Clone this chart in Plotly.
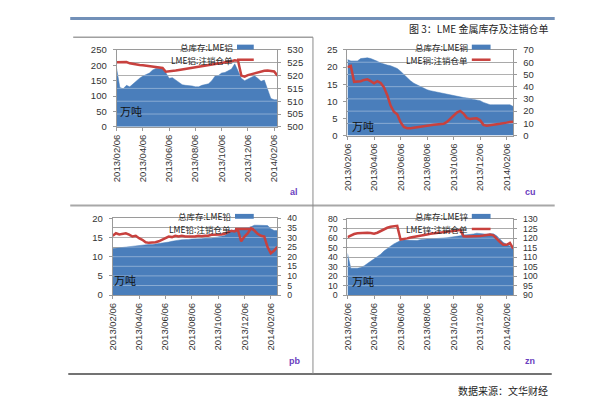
import plotly.graph_objects as go

# ---------------- data ----------------
dates = ["2013/02/06", "2013/04/06", "2013/06/06", "2013/08/06",
         "2013/10/06", "2013/12/06", "2014/02/06"]

al_stock = [190, 128, 124, 135, 130, 140, 148, 158, 165, 170, 175, 185, 190, 190, 188, 176,
            158, 160, 152, 142, 137, 135, 135, 133, 130, 130, 135, 137, 140, 150, 165, 167,
            175, 177, 182, 188, 205, 180, 158, 150, 155, 160, 166, 158, 148, 152, 120, 92, 88, 88]
al_cancel = [525.2, 525.3, 525.4, 525.3, 524.8, 524.5, 524.3, 524.1, 524.0, 523.8,
             523.7, 523.5, 523.4, 523.2, 523.0, 521.5, 521.6, 521.8, 522.0, 522.2,
             522.4, 522.6, 522.8, 523.0, 523.2, 523.4, 523.6, 523.8, 524.0, 524.2,
             524.4, 524.6, 524.8, 525.0, 525.3, 525.6, 526.0, 525.8, 520.0, 519.6,
             520.2, 520.6, 521.0, 521.3, 521.6, 521.9, 522.0, 521.8, 521.6, 520.0]

cu_stock = [22.2, 21.8, 21.8, 21.8, 22.5, 22.7, 22.7, 22.5, 22.2, 21.7,
            21.2, 20.8, 20.6, 20.4, 20.1, 19.6, 18.8, 17.8, 16.9, 16.0,
            15.3, 14.8, 14.3, 13.9, 13.4, 13.1, 12.9, 12.7, 12.4, 12.1,
            11.9, 11.7, 11.5, 11.4, 11.2, 11.1, 11.0, 10.8, 10.6, 10.5,
            10.2, 9.7, 9.3, 9.0, 9.0, 9.0, 9.0, 9.1, 9.2, 9.0, 8.5]
cu_cancel = [56, 57, 44, 44.3, 44.5, 45.5, 46, 44.5, 42.8, 44.5,
             43, 39.5, 33, 24.5, 19.5, 17.5, 11, 7, 6.1, 6.1,
             6.3, 7, 7.3, 7.7, 7.8, 8.5, 8.8, 9.2, 9.3, 9.6,
             11.2, 13.8, 16.5, 18.8, 20.2, 18, 14.5, 13.5, 13.9, 14.1,
             12.5, 8.8, 8.0, 8.6, 9.2, 9.3, 9.6, 10.4, 10.6, 11.2, 11.4]

pb_stock = [12.1, 12.2, 12.3, 12.5, 12.6, 12.65, 12.7, 12.8, 12.9, 13.1,
            13.2, 13.2, 13.2, 13.3, 13.4, 13.5, 13.6, 13.8, 14.0, 14.2,
            14.3, 14.4, 14.4, 14.5, 14.6, 14.6, 14.6, 14.7, 14.8, 14.8,
            14.8, 15.0, 15.1, 15.3, 15.5, 16.1, 16.6, 17.0, 17.4, 17.4,
            17.4, 17.5, 17.8, 18.2, 18.2, 18.2, 18.2, 18.1, 17.3, 16.8, 16.8]
pb_cancel = [30.9, 32.2, 31.6, 31.9, 32.2, 31.5, 30.5, 30.9, 29.6, 28.8,
             27.5, 27.2, 27.2, 27.5, 28.0, 28.9, 29.7, 30.5, 30.2, 30.9,
             30.5, 30.9, 30.5, 30.5, 30.5, 30.5, 30.9, 30.6, 30.9, 30.9,
             31.4, 31.4, 31.4, 31.6, 31.9, 32.6, 33.5, 33.1, 33.9, 28.0,
             30.5, 32.2, 34.8, 33.6, 31.9, 30.9, 30.5, 25.0, 21.8, 23.2, 25.2]

zn_stock = [44, 28.4, 28.4, 28.4, 29.2, 30.8, 33.3, 35.8, 38.2, 40.5,
            43, 46.5, 49.5, 51.5, 54, 56, 57.5, 58, 58, 58.2,
            58.2, 57.5, 58.5, 59.2, 59.2, 59.2, 59.3, 59.5, 60.2, 60.2,
            60.5, 61, 61.8, 62, 62.5, 63.5, 63.6, 63.8, 64.5, 65.3,
            64.8, 64, 64.2, 64.6, 64.6, 62.5, 59, 55.5, 53.5, 51.8, 50]
zn_cancel = [120.6, 121.6, 122.2, 122.6, 122.8, 123.0, 122.9, 122.7, 122.4, 122.9,
             123.8, 124.6, 125.5, 126.0, 126.3, 126.5, 119.3, 119.5, 119.9, 120.4,
             120.8, 121.2, 121.5, 121.8, 122.0, 122.3, 122.5, 122.6, 122.8, 123.0,
             123.3, 123.5, 123.8, 124.0, 124.4, 121.0, 120.9, 120.9, 120.9, 121.0,
             121.2, 121.4, 121.7, 121.9, 121.5, 119.5, 118.0, 116.5, 116.5, 117.5, 114.5]

metals = ["al", "cu", "pb", "zn"]
stock_names = ["总库存:LME铝", "总库存:LME铜", "总库存:LME铅", "总库存:LME锌"]
cancel_names = ["LME铝:注销仓单", "LME铜:注销仓单", "LME铅:注销仓单", "LME锌:注销仓单"]
left_ranges = [(0, 250, 50), (0, 25, 5), (0, 20, 5), (0, 80, 10)]
right_ranges = [(500, 530, 5), (0, 70, 10), (0, 40, 5), (90, 130, 5)]
unit = "万吨"
title = "图 3：LME 金属库存及注销仓单"
source = "数据来源：文华财经"

# ---------------- styling / layout ----------------
W, H = 600, 403
BLUE = "#4A7EBB"
RED = "#C8413E"
AX = "#9A9A9A"
GRID = "#8C8C8C"
NUM_FONT = "Liberation Sans, Arial, sans-serif"
CJK_FONT = "Noto Sans CJK SC, sans-serif"

def px(x):
    return x / W

def py(y):
    return 1 - y / H

# plot boxes (left, right, top, bottom) in pixels
boxes = [(104, 267, 37, 116), (338, 506, 37, 125), (100, 267, 210, 289), (338, 506, 211, 289)]
legend_pos = [(226, 243, 34, 47), (464, 483, 34, 47), (224, 243, 208, 221), (464, 483, 208, 221)]
unit_pos = [(119, 100), (354, 115), (113, 273), (354, 275)]
tag_pos = [(284, 183), (523, 183), (284, 357), (523, 357)]
ytick_sizes = [(9.5, 9.5), (9.5, 9.5), (9.5, 8.8), (8.8, 8.8)]

series = [(al_stock, al_cancel), (cu_stock, cu_cancel), (pb_stock, pb_cancel), (zn_stock, zn_cancel)]

fig = go.Figure()
layout = dict(width=W, height=H, autosize=False, margin=dict(l=0, r=0, t=0, b=0),
              paper_bgcolor="white", plot_bgcolor="white", showlegend=False)
shapes = []
annotations = []

for i in range(4):
    k = i + 1
    xa = "x" if k == 1 else f"x{k}"
    yl = "y" if k == 1 else f"y{k}"
    yr = f"y{k + 4}"
    stock, cancel = series[i]
    n = len(stock)
    xs = list(range(n))

    fig.add_trace(go.Scatter(x=xs, y=stock, xaxis=xa, yaxis=yl, mode="lines",
                             fill="tozeroy", fillcolor=BLUE,
                             line=dict(color=BLUE, width=0.5), hoverinfo="skip"))
    r0, r1, rdt = right_ranges[i]
    v = r0 + rdt
    while v < r1 - 1e-9:
        fig.add_trace(go.Scatter(x=[0, n - 1], y=[v, v], xaxis=xa, yaxis=yr, mode="lines",
                                 line=dict(color="rgba(255,255,255,0.35)", width=1),
                                 hoverinfo="skip"))
        v += rdt
    fig.add_trace(go.Scatter(x=xs, y=cancel, xaxis=xa, yaxis=yr, mode="lines",
                             line=dict(color=RED, width=2.5), hoverinfo="skip"))

    x0, x1, y0, y1 = boxes[i]
    l0, l1, ldt = left_ranges[i]
    ls, rs = ytick_sizes[i]
    tickidx = list(range(0, n, 8))[:len(dates)]
    suffix = "" if k == 1 else str(k)
    layout["xaxis" + suffix] = dict(
        domain=[px(x0), px(x1)], anchor=yl, range=[0, n - 1],
        tickmode="array", tickvals=tickidx, ticktext=dates, tickangle=-90,
        showgrid=False, zeroline=False, showline=True, mirror=True,
        linecolor=AX, linewidth=1, ticks="outside", ticklen=3, tickcolor=AX,
        tickfont=dict(family=NUM_FONT, size=9.5, color="#333"))
    layout["yaxis" + suffix] = dict(
        domain=[py(y1), py(y0)], anchor=xa, range=[l0, l1], tick0=l0, dtick=ldt,
        showgrid=False, zeroline=False, showline=True, linecolor=AX, linewidth=1,
        ticks="outside", ticklen=3, tickcolor=AX, ticklabelstandoff=4,
        tickfont=dict(family=NUM_FONT, size=ls, color="#333"))
    layout[f"yaxis{k + 4}"] = dict(
        overlaying=yl, side="right", anchor=xa, range=[r0, r1], tick0=r0, dtick=rdt,
        showgrid=True, gridcolor=GRID, gridwidth=1, zeroline=False,
        showline=True, linecolor=AX, linewidth=1,
        ticks="outside", ticklen=3, tickcolor=AX, ticklabelstandoff=4,
        tickfont=dict(family=NUM_FONT, size=rs, color="#333"))

    # mirrored-style legend: text, then symbol on the right
    sx0, sx1, ry1, ry2 = legend_pos[i]
    shapes.append(dict(type="rect", xref="paper", yref="paper",
                       x0=px(sx0), x1=px(sx1), y0=py(ry1 + 2.5), y1=py(ry1 - 2.5),
                       fillcolor=BLUE, line=dict(width=0)))
    shapes.append(dict(type="line", xref="paper", yref="paper",
                       x0=px(sx0), x1=px(sx1), y0=py(ry2), y1=py(ry2),
                       line=dict(color=RED, width=2.5)))
    annotations.append(dict(text=stock_names[i], xref="paper", yref="paper",
                            x=px(sx0 - 3), y=py(ry1), xanchor="right", yanchor="middle",
                            showarrow=False, borderpad=0,
                            font=dict(family=CJK_FONT, size=8.5, color="#222")))
    annotations.append(dict(text=cancel_names[i], xref="paper", yref="paper",
                            x=px(sx0 - 3), y=py(ry2), xanchor="right", yanchor="middle",
                            showarrow=False, borderpad=0,
                            font=dict(family=CJK_FONT, size=8.5, color="#222")))
    ux, uy = unit_pos[i]
    annotations.append(dict(text=unit, xref="paper", yref="paper", x=px(ux), y=py(uy),
                            xanchor="center", yanchor="middle", showarrow=False,
                            font=dict(family=CJK_FONT, size=11, color="#111")))
    tx, ty = tag_pos[i]
    annotations.append(dict(text="<b>" + metals[i] + "</b>", xref="paper", yref="paper",
                            x=px(tx), y=py(ty), xanchor="center", yanchor="middle",
                            showarrow=False, font=dict(family=NUM_FONT, size=9, color="#6A40C0")))

# frame lines
def hline(xa, xb, y, color, width):
    shapes.append(dict(type="line", xref="paper", yref="paper", x0=px(xa), x1=px(xb),
                       y0=py(y), y1=py(y), line=dict(color=color, width=width)))

hline(57, 548, 4.5, "#7290B8", 3)
hline(60, 303, 24, "#A0A0A0", 1.5)
hline(57, 548, 197, "#A8A8A8", 2)
hline(55, 545, 370, "#444444", 1.5)
shapes.append(dict(type="line", xref="paper", yref="paper", x0=px(303), x1=px(303),
                   y0=py(24), y1=py(370), line=dict(color="#8A8A8A", width=1)))

annotations.append(dict(text=title, xref="paper", yref="paper", x=px(543), y=py(15),
                        xanchor="right", yanchor="middle", showarrow=False,
                        font=dict(family=CJK_FONT, size=10, color="#222")))
annotations.append(dict(text=source, xref="paper", yref="paper", x=px(543), y=py(387),
                        xanchor="right", yanchor="middle", showarrow=False,
                        font=dict(family=CJK_FONT, size=10, color="#222")))

layout["shapes"] = shapes
layout["annotations"] = annotations
fig.update_layout(**layout)
fig.write_html("out.html")
